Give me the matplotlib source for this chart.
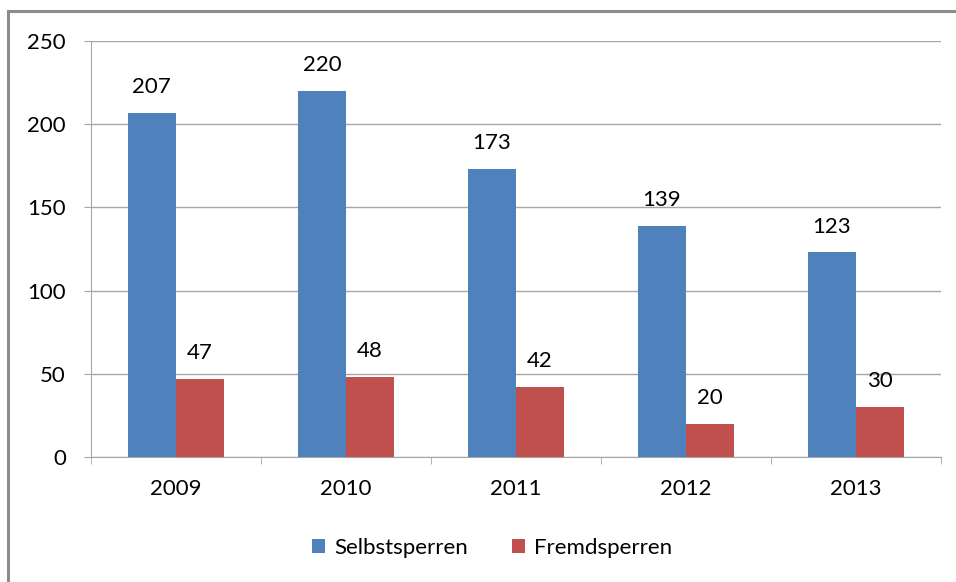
import matplotlib
matplotlib.use('Agg')
import matplotlib.pyplot as plt
import numpy as np
from matplotlib.patches import Rectangle

years = ['2009', '2010', '2011', '2012', '2013']
selbst = [207, 220, 173, 139, 123]
fremd = [47, 48, 42, 20, 30]

blue = '#4F81BD'
red = '#C0504D'
grid_col = '#A6A6A6'

plt.rcParams['font.family'] = ['Lato', 'DejaVu Sans']
fs = 16

fig = plt.figure(figsize=(9.56, 5.82), dpi=100)
ax = fig.add_axes([91/956, 1-457/582, 850/956, 416/582])

# outer frame (top and left visible, rest cropped)
fig.patches.append(Rectangle((8/956, -0.1), 1.2, 1 - 11/582 + 0.1, transform=fig.transFigure,
                             fill=False, edgecolor='#8C8C8C', linewidth=2.2))

x = np.arange(len(years))
w = 0.284
b1 = ax.bar(x - w/2, selbst, w, color=blue, zorder=3)
b2 = ax.bar(x + w/2, fremd, w, color=red, zorder=3)

for bars in (b1, b2):
    for r in bars:
        ax.annotate(str(int(r.get_height())), (r.get_x() + r.get_width()/2, r.get_height()),
                    xytext=(0, 18.5), textcoords='offset points', ha='center', va='center',
                    fontsize=fs, color='black')

ax.set_xlim(-0.5, 4.5)
ax.set_ylim(0, 250)
ax.set_yticks(range(0, 251, 50))
ax.tick_params(axis='y', length=5, color=grid_col, labelsize=fs, pad=13)
ax.yaxis.grid(True, color=grid_col, linewidth=1, zorder=0)

ax.set_xticks(x)
ax.set_xticklabels(years)
ax.tick_params(axis='x', length=0, labelsize=fs, pad=16)
ax.set_xticks(np.arange(-0.5, 4.6, 1), minor=True)
ax.tick_params(axis='x', which='minor', length=5, color=grid_col)

for s in ['top', 'right']:
    ax.spines[s].set_visible(False)
ax.spines['left'].set_color(grid_col)
ax.spines['bottom'].set_color(grid_col)

fig.legend([b1, b2], ['Selbstsperren', 'Fremdsperren'], loc='center', bbox_to_anchor=(492/956, 1-548/582),
           ncol=2, frameon=False, fontsize=fs, handlelength=0.6, handleheight=0.6,
           handletextpad=0.4, columnspacing=2.0)

fig.savefig('out.png', dpi=100, facecolor='white')
